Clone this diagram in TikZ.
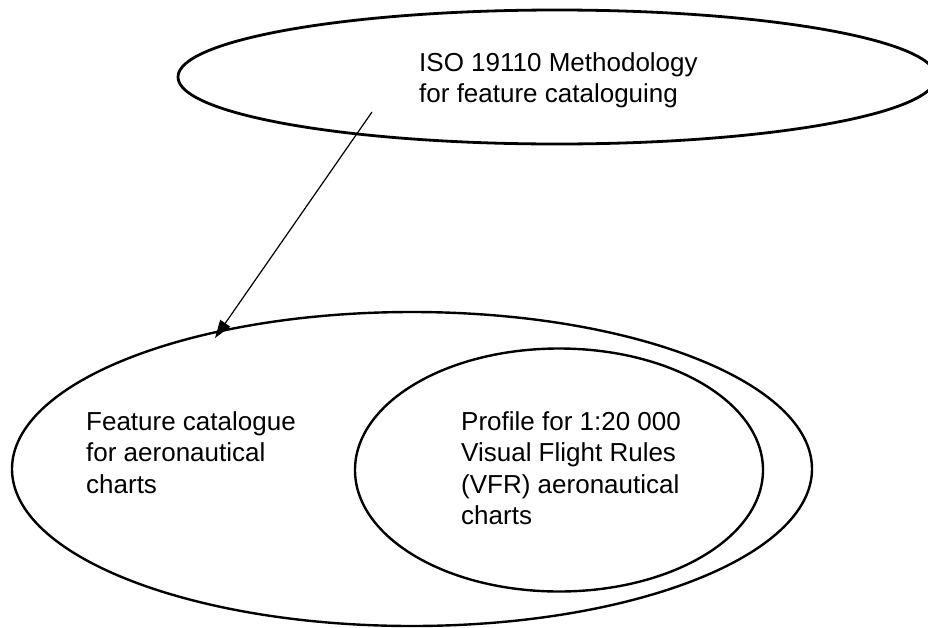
\documentclass[tikz,border=0pt]{standalone}
\usepackage{fontspec}
\setmainfont{Liberation Sans}
\usetikzlibrary{shapes.geometric,arrows.meta}
\begin{document}
\begin{tikzpicture}[x=1pt,y=-1pt,
  oval/.style={draw,ellipse,inner sep=0pt,line width=2.4pt},
  lbl/.style={anchor=base west,inner sep=0pt,align=left,
    font=\fontsize{26}{31.5}\selectfont},
  link/.style={line width=1.2pt,-{Triangle[length=18pt,width=12pt]}}]
\useasboundingbox (0,0) rectangle (928,627);
% methodology standard
\node[oval,line width=2.8pt,minimum width=758pt,minimum height=134pt] (iso) at (557,77) {};
% catalogue and the profile nested inside it
\node[oval,minimum width=800pt,minimum height=314pt] (cat) at (412,469) {};
\node[oval,minimum width=408pt,minimum height=243pt] (prof) at (559,470) {};
% texts (anchored at the baseline of their last line)
\node[lbl] (isotxt) at (419,102.5) {ISO 19110 Methodology\\for feature cataloguing};
\node[lbl] (cattxt) at (86,493) {Feature catalogue\\for aeronautical\\charts};
\node[lbl] (proftxt) at (461,524.5) {Profile for 1:20 000\\Visual Flight Rules\\(VFR) aeronautical\\charts};
% the catalogue follows the methodology
\coordinate (src) at (372,112);
\coordinate (dst) at (215,338);
\draw[link] (src) -- (dst);
\end{tikzpicture}
\end{document}
